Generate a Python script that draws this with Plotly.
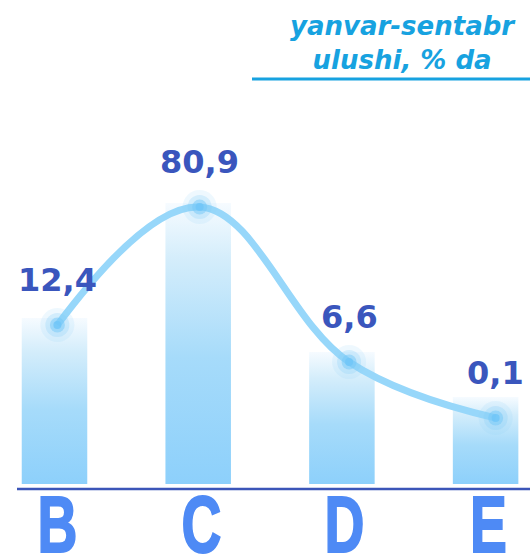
import plotly.graph_objects as go

categories = ["B", "C", "D", "E"]
value_labels = ["12,4", "80,9", "6,6", "0,1"]
bar_heights = [166, 281, 132, 87]          # displayed bar heights (pixels above baseline)
curve_x = [0.02, 1.01, 2.05, 3.07]         # curve node positions (category index units)
curve_y = [159, 277, 122, 66]              # curve node heights

W = 530
H = 556
BAR_HALF = 0.228

fig = go.Figure()

bar_scale = [[0, "#8dd0fb"], [0.45, "#a6dbfa"], [0.8, "#d4edfb"], [1, "#f6fbff"]]
for i, h in enumerate(bar_heights):
    fig.add_trace(go.Scatter(
        x=[i - BAR_HALF, i + BAR_HALF], y=[h, h],
        mode="none", fill="tozeroy",
        fillgradient=dict(type="vertical", colorscale=bar_scale, start=0, stop=h),
        hoverinfo="skip", showlegend=False,
    ))

# smooth curve
fig.add_trace(go.Scatter(
    x=curve_x, y=curve_y, mode="lines",
    line=dict(color="#97d7fa", width=7, shape="spline", smoothing=1.1),
    hoverinfo="skip", showlegend=False,
))

# glow at nodes
for size, color, op in [(34, "#8fd3f9", 0.15), (24, "#80cdf8", 0.25), (15, "#74c8f7", 0.5), (8, "#6fc6f7", 0.8)]:
    fig.add_trace(go.Scatter(
        x=curve_x, y=curve_y, mode="markers",
        marker=dict(size=size, color=color, opacity=op, line=dict(width=0)),
        hoverinfo="skip", showlegend=False,
    ))

# value labels
for cx, cy, lab in zip(curve_x, curve_y, value_labels):
    fig.add_annotation(
        x=cx, y=cy, text=lab, showarrow=False, xanchor="center", yanchor="middle",
        yshift=45, font=dict(family="DejaVu Sans", size=32, color="#3a56bd", weight="bold"),
    )

# category letters
for i, c in enumerate(categories):
    fig.add_annotation(
        x=i, y=-40, text=c, showarrow=False, xanchor="center", yanchor="middle",
        xshift=3,
        font=dict(family="Liberation Sans, Arial", size=79, color="#4e8af5", weight="bold"),
    )

# baseline
fig.add_shape(type="line", xref="paper", yref="y", x0=17 / W, x1=1, y0=-5, y1=-5,
              line=dict(color="#3b55b8", width=2.5))

# title
fig.add_annotation(
    xref="paper", yref="paper", x=403 / W, y=1 - 43 / H,
    text="yanvar-sentabr<br>ulushi, % da", showarrow=False,
    xanchor="center", yanchor="middle", align="center",
    font=dict(family="DejaVu Sans", size=26, color="#17a2e0", weight="bold", style="italic"),
)
fig.add_shape(type="line", xref="paper", yref="paper", x0=252 / W, x1=1,
              y0=1 - 79 / H, y1=1 - 79 / H, line=dict(color="#17a2e0", width=3))

x0 = -54.5 / 143.7
x1 = (W - 54.5) / 143.7
fig.update_layout(
    width=W, height=H,
    margin=dict(l=0, r=0, t=0, b=0),
    paper_bgcolor="white", plot_bgcolor="white",
    xaxis=dict(range=[x0, x1], visible=False, fixedrange=True),
    yaxis=dict(range=[-(H - 484), 484], visible=False, fixedrange=True),
    showlegend=False,
)

post_script = """
document.body.style.margin='0';
document.body.style.overflow='hidden';
var gd=document.getElementById('{plot_id}');
function squeeze(){
  gd.querySelectorAll('g.annotation text').forEach(function(t){
    if(['B','C','D','E'].indexOf(t.textContent.trim())>=0){
      t.style.transformBox='fill-box';
      t.style.transformOrigin='center';
      t.style.transform='scaleX(0.7)';
      t.style.stroke='#4e8af5';
      t.style.strokeWidth='2px';
    }
  });
}
squeeze();
if(gd.on){ gd.on('plotly_afterplot', squeeze); }
"""

fig.write_html("out.html", post_script=post_script, config={"displayModeBar": False})
